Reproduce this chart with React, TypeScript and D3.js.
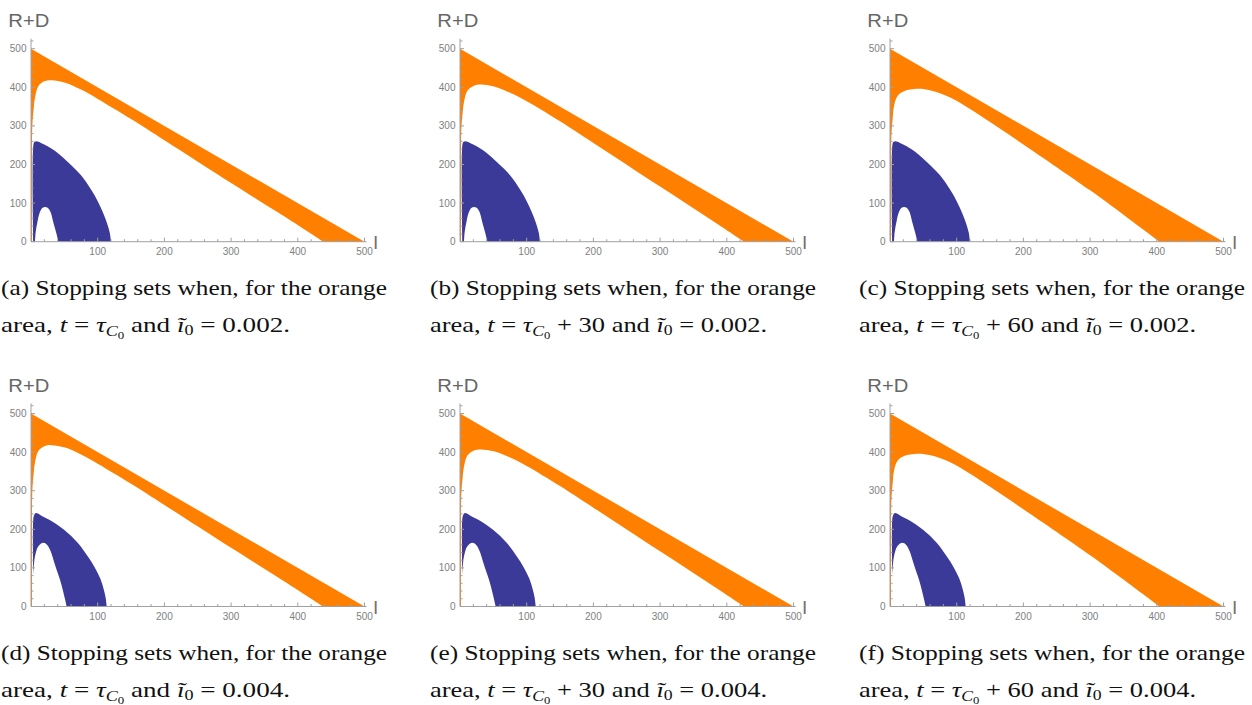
import * as d3 from "d3";

// orange stopping set: lower edge of the band (I, R+D), one per time offset
const orangeLowerA: [number, number][] = [[1.5, 0], [1.5, 150], [2, 300], [4, 345], [6, 373], [11, 403], [21, 416], [31, 418], [51, 412], [75, 394], [100, 370], [150, 318], [200, 263], [300, 152], [370, 76], [438, 0]];
const orangeLowerB: [number, number][] = [[1.5, 0], [1.5, 150], [2, 290], [4, 335], [6, 362], [11, 391], [21, 404], [31, 407], [51, 402], [75, 386], [100, 364], [150, 312], [200, 256], [300, 143], [370, 64], [426, 0]];
const orangeLowerC: [number, number][] = [[1.5, 0], [1.5, 150], [2, 270], [4, 320], [6, 351], [11, 377], [21, 390], [41, 396], [61, 392], [91, 373], [120, 344], [150, 310], [200, 252], [300, 133], [350, 70], [404, 0]];
const orangeUpper: [number, number][] = [[0, 0], [0, 500], [500, 0]];

// blue stopping set, outer and inner boundary, per i0
const blueOuter002: [number, number][] = [[3.5, 0], [3.5, 250], [5, 258], [8, 260], [15, 256], [25, 247], [40, 230], [56, 205], [75, 172], [90, 135], [100, 105], [108, 75], [114, 48], [118, 24], [120, 0]];
const blueInner002: [number, number][] = [[6, 0], [7, 25], [9.5, 50], [13, 75], [17, 87], [21, 90], [25, 88], [29, 78], [33.5, 50], [38, 22], [41, 0]];
const blueOuter004: [number, number][] = [[3.5, 84], [3.5, 228], [5, 238], [7.5, 242], [15, 236], [30, 222], [50, 198], [70, 165], [85, 130], [96, 100], [104, 72], [109, 45], [112, 22], [113.5, 0]];
const blueInner004: [number, number][] = [[3.5, 86], [4.5, 110], [6, 130], [11, 156], [18.5, 165], [24, 160], [29, 145], [33.5, 122], [38, 97], [43.5, 69], [48.5, 37], [53.5, 0]];

const panelLetters = ["a", "b", "c", "d", "e", "f"];
const timeOffsets = ["", "+ 30", "+ 60"];
const i0Values = ["0.002", "0.004"];
const xTickLabels = [100, 200, 300, 400, 500];
const yTickLabels = [0, 100, 200, 300, 400, 500];

const colX = [31, 460, 890];
const rowY = [241.7, 606.5];
const captionX = [1, 430, 859];

const ORANGE = "#ff8000";
const BLUE = "#3c3a98";
const AXIS = "#a0a0a0";
const LABEL = "#808080";

function Panel({ col, row }: { col: number; row: number }) {
    const ox = colX[col];
    const oy = rowY[row];
    const x = d3.scaleLinear([0, 500], [ox, ox + 333.5]);
    const y = d3.scaleLinear([0, 500], [oy, oy - 193]);
    const straight = d3.line<[number, number]>((d) => x(d[0]), (d) => y(d[1]));
    const smooth = d3.line<[number, number]>((d) => x(d[0]), (d) => y(d[1])).curve(d3.curveCatmullRom.alpha(0.5));

    const lower = [orangeLowerA, orangeLowerB, orangeLowerC][col];
    const orangePath = (straight(orangeUpper) as string) + (smooth([...lower].reverse()) as string).replace(/^M/, "L") + "Z";

    const outer = row === 0 ? blueOuter002 : blueOuter004;
    const inner = row === 0 ? blueInner002 : blueInner004;
    const bluePath = (smooth(outer) as string) + (smooth([...inner].reverse()) as string).replace(/^M/, "L") + "Z";

    const minorX = d3.range(20, 520, 20).filter((v) => v % 100 !== 0);
    const minorY = d3.range(20, 540, 20).filter((v) => v % 100 !== 0);

    const letter = panelLetters[row * 3 + col];
    const cx = captionX[col];
    const capY = oy + 52.5;

    return (
        <g>
            <path d={orangePath} fill={ORANGE} />
            <path d={bluePath} fill={BLUE} />

            <g stroke={AXIS} strokeWidth={1}>
                <line x1={x(0)} x2={x(503)} y1={y(0)} y2={y(0)} />
                <line x1={x(0)} x2={x(0)} y1={y(0)} y2={y(526)} />
                {xTickLabels.map((v) => <line key={"xm" + v} x1={x(v)} x2={x(v)} y1={y(0)} y2={y(0) - 4} />)}
                {minorX.map((v) => <line key={"xn" + v} x1={x(v)} x2={x(v)} y1={y(0)} y2={y(0) - 2.5} />)}
                {yTickLabels.map((v) => <line key={"ym" + v} x1={x(0)} x2={x(0) + 4} y1={y(v)} y2={y(v)} />)}
                {minorY.map((v) => <line key={"yn" + v} x1={x(0)} x2={x(0) + 2.5} y1={y(v)} y2={y(v)} />)}
            </g>

            <g fontFamily="'Liberation Sans', Arial, sans-serif" fontSize={10} fill={LABEL}>
                {xTickLabels.map((v) => (
                    <text key={"xl" + v} x={x(v)} y={y(0) + 13} textAnchor="middle">{v}</text>
                ))}
                {yTickLabels.map((v) => (
                    <text key={"yl" + v} x={x(0) - 4.5} y={y(v) + 3.5} textAnchor="end">{v}</text>
                ))}
            </g>

            <g fontFamily="'Liberation Sans', Arial, sans-serif" fill="#666">
                <text x={ox - 22.7} y={oy - 214.4} fontSize={19} textLength={41} lengthAdjust="spacingAndGlyphs">R+D</text>
                <text x={ox + 342} y={oy + 7.5} fontSize={19} fill="#7a6d6d">I</text>
            </g>

            <g fontFamily="'Liberation Serif', 'Times New Roman', serif" fontSize={21} fill="#111">
                <text x={cx} y={capY + 1} textLength={386} lengthAdjust="spacingAndGlyphs">
                    ({letter}) Stopping sets when, for the orange
                </text>
                <text x={cx} y={capY + 38} textLength={col === 0 ? 289 : 337} lengthAdjust="spacingAndGlyphs">
                    area,{" "}
                    <tspan fontStyle="italic">t</tspan>{" = "}
                    <tspan fontStyle="italic">τ</tspan>
                    <tspan fontStyle="italic" fontSize={14} dy={4}>C</tspan>
                    <tspan fontSize={10} dy={2.5}>0</tspan>
                    <tspan dy={-6.5}>{timeOffsets[col] ? " " + timeOffsets[col] + " and " : " and "}</tspan>
                    <tspan fontStyle="italic">ĩ</tspan>
                    <tspan fontSize={14} dy={3}>0</tspan>
                    <tspan dy={-3}>{" = " + i0Values[row] + "."}</tspan>
                </text>
            </g>
        </g>
    );
}

export default function App() {
    return (
        <svg width={1252} height={705} style={{ position: "absolute", left: 0, top: 0, background: "#fff" }}>
            {[0, 1].map((row) => [0, 1, 2].map((col) => <Panel key={row + "-" + col} col={col} row={row} />))}
        </svg>
    );
}
